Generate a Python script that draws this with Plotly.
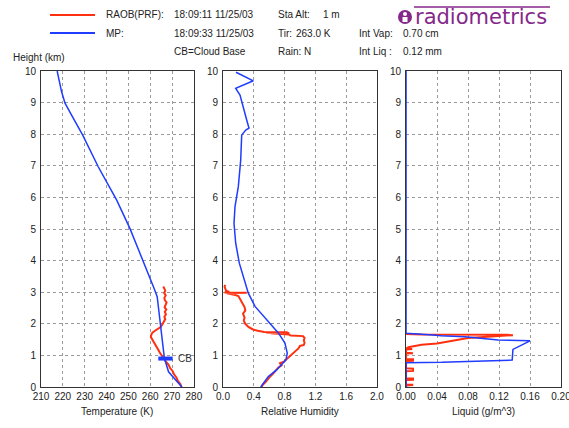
import plotly.graph_objects as go

# ---------------- data ----------------
# Temperature profiles (K) vs height (km)
mp_temp_h = [0.0, 0.22, 0.48, 0.91, 1.91, 2.86, 3.12, 3.6, 4.23, 5.02, 5.92, 6.97, 7.97, 8.6, 8.98, 9.35, 10.0]
mp_temp = [274.5, 271.5, 268.4, 266.5, 264.8, 263.2, 261.8, 259.1, 255.3, 250.7, 244.6, 236.2, 229.1, 224.0, 221.0, 219.4, 217.4]

raob_temp_h = [0.0, 0.1, 0.2, 0.3, 0.4, 0.5, 0.6, 0.7, 0.8, 0.9, 1.0, 1.1, 1.2, 1.3, 1.4, 1.5, 1.58, 1.65,
               1.72, 1.78, 1.84, 1.9, 1.96, 2.02, 2.08, 2.15, 2.22, 2.3, 2.38, 2.45, 2.52, 2.6, 2.68,
               2.75, 2.82, 2.9, 2.98, 3.05, 3.12, 3.18]
raob_temp = [274.4, 273.7, 272.6, 272.0, 270.9, 270.3, 269.1, 268.4, 267.2, 266.1, 265.3, 264.3, 263.5,
             262.6, 261.7, 260.9, 260.3, 260.5, 261.0, 262.2, 263.5, 264.8, 265.4, 266.0, 266.6, 266.9,
             266.5, 267.2, 266.7, 267.4, 266.6, 266.9, 267.5, 266.7, 266.5, 267.1, 266.4, 266.9, 266.3, 266.0]

# Cloud base marker
cb_height = 0.9
cb_temp_span = [263.7, 270.3]

# Relative humidity profiles
mp_rh_h = [0.0, 0.33, 0.54, 0.86, 1.07, 1.39, 1.71, 2.13, 2.55, 2.97, 3.49, 3.92, 4.55, 5.18, 5.71, 6.34,
           7.18, 7.97, 8.13, 8.19, 8.45, 8.87, 9.24, 9.45, 9.69, 9.96]
mp_rh = [0.49, 0.589, 0.697, 0.818, 0.835, 0.805, 0.719, 0.567, 0.416, 0.329, 0.264, 0.212, 0.165, 0.143,
         0.156, 0.199, 0.23, 0.243, 0.295, 0.338, 0.308, 0.264, 0.221, 0.165, 0.394, 0.169]

raob_rh_h = [0.0, 0.08, 0.15, 0.25, 0.35, 0.45, 0.55, 0.62, 0.68, 0.75, 0.8, 0.87, 0.92, 1.0, 1.08, 1.15,
             1.22, 1.3, 1.33, 1.4, 1.48, 1.55, 1.61, 1.63, 1.66, 1.7, 1.71, 1.72, 1.73, 1.74, 1.75, 1.78,
             1.82, 1.9, 2.0, 2.1, 2.2, 2.32, 2.42, 2.53, 2.62, 2.72, 2.82, 2.88, 2.91, 2.95, 2.97, 2.98,
             2.99, 3.0, 3.01, 3.05, 3.12, 3.18, 3.23]
raob_rh = [0.5, 0.52, 0.55, 0.58, 0.62, 0.66, 0.7, 0.72, 0.76, 0.74, 0.79, 0.82, 0.84, 0.88, 0.92, 0.95,
           0.98, 1.0, 1.05, 1.06, 1.05, 1.06, 1.04, 0.88, 0.86, 0.62, 0.86, 0.56, 0.84, 0.53, 0.52, 0.45,
           0.39, 0.33, 0.29, 0.27, 0.28, 0.26, 0.29, 0.28, 0.26, 0.24, 0.22, 0.2, 0.16, 0.1, 0.05, 0.31,
           0.02, 0.3, 0.08, 0.04, 0.03, 0.02, 0.03]

# Liquid water profiles (g/m^3)
mp_liq_h = [0.0, 0.77, 0.78, 0.81, 0.85, 1.19, 1.46, 1.49, 1.59, 1.62, 1.645, 1.7, 10.0]
mp_liq = [0.0, 0.0, 0.046, 0.093, 0.137, 0.138, 0.16, 0.119, 0.076, 0.045, 0.035, 0.0, 0.0]

raob_liq_h = [0.0, 0.05, 0.06, 0.07, 0.08, 0.22, 0.23, 0.27, 0.28, 0.5, 0.51, 0.58, 0.59, 0.82, 0.83,
              0.88, 0.89, 1.06, 1.07, 1.08, 1.19, 1.2, 1.21, 1.26, 1.3, 1.34, 1.38, 1.42, 1.45, 1.5, 1.55,
              1.6, 1.63, 1.64, 1.65, 1.66, 1.68]
raob_liq = [0.0, 0.0, 0.008, 0.008, 0.0, 0.0, 0.009, 0.009, 0.0, 0.0, 0.009, 0.009, 0.0, 0.0, 0.009,
            0.009, 0.0, 0.0, 0.009, 0.0, 0.0, 0.008, 0.0, 0.003, 0.01, 0.02, 0.04, 0.05, 0.06, 0.07, 0.08,
            0.11, 0.13, 0.138, 0.13, 0.02, 0.0]

# Axis ticks
temp_ticks = [210, 220, 230, 240, 250, 260, 270, 280]
rh_ticks = [0.0, 0.4, 0.8, 1.2, 1.6, 2.0]
liq_ticks = [0.0, 0.04, 0.08, 0.12, 0.16, 0.20]
height_ticks = list(range(0, 11))

# Header information
raob_label, raob_time = "RAOB(PRF):", "18:09:11 11/25/03"
mp_label, mp_time = "MP:", "18:09:33 11/25/03"
info_rows = [("Sta Alt:", "1 m", 321), ("Tir:", "263.0 K", 294), ("Rain: N", "", 0)]
int_rows = [("Int Vap:", "0.70 cm"), ("Int Liq :", "0.12 mm")]

RED = "#ff3010"
BLUE = "#1f3cff"
FONT = "Liberation Sans, Arial, sans-serif"
TXT = "#222222"

# plot-area geometry (pixels) used for placing header items
L, R, T, B = 41, 561, 71, 387


def paper(x, y):
    return (x - L) / (R - L), (B - y) / (B - T)


fig = go.Figure()

# Temperature panel
fig.add_trace(go.Scatter(x=raob_temp, y=raob_temp_h, mode="lines", line=dict(color=RED, width=2),
                         xaxis="x", yaxis="y", name="RAOB"))
fig.add_trace(go.Scatter(x=mp_temp, y=mp_temp_h, mode="lines", line=dict(color=BLUE, width=1.5),
                         xaxis="x", yaxis="y", name="MP"))
fig.add_trace(go.Scatter(x=cb_temp_span, y=[cb_height, cb_height], mode="lines",
                         line=dict(color=BLUE, width=4), xaxis="x", yaxis="y", name="CB"))

# Relative humidity panel
fig.add_trace(go.Scatter(x=raob_rh, y=raob_rh_h, mode="lines", line=dict(color=RED, width=2),
                         xaxis="x2", yaxis="y2", name="RAOB"))
fig.add_trace(go.Scatter(x=mp_rh, y=mp_rh_h, mode="lines", line=dict(color=BLUE, width=1.5),
                         xaxis="x2", yaxis="y2", name="MP"))

# Liquid panel
fig.add_trace(go.Scatter(x=raob_liq, y=raob_liq_h, mode="lines", line=dict(color=RED, width=2),
                         xaxis="x3", yaxis="y3", name="RAOB"))
fig.add_trace(go.Scatter(x=mp_liq, y=mp_liq_h, mode="lines", line=dict(color=BLUE, width=1.5),
                         xaxis="x3", yaxis="y3", name="MP"))

axis_common = dict(showline=True, mirror=True, linecolor="#333333", linewidth=1,
                   showgrid=True, gridcolor="#9a9a9a", griddash="3px,3px", gridwidth=1,
                   zeroline=False, ticks="", tickfont=dict(family=FONT, size=10, color=TXT),
                   fixedrange=True, automargin=False, ticklabeloverflow="allow")

domains = [[0.0, 0.294], [0.35, 0.646], [0.702, 1.0]]
xspecs = [
    dict(range=[210, 280], tickvals=temp_ticks, ticktext=[str(v) for v in temp_ticks]),
    dict(range=[0, 2.0], tickvals=rh_ticks, ticktext=[f"{v:.1f}" for v in rh_ticks]),
    dict(range=[0, 0.2], tickvals=liq_ticks, ticktext=[f"{v:.2f}" for v in liq_ticks]),
]
layout = dict(
    template="none",
    width=569, height=428,
    margin=dict(l=L, r=569 - R, t=T, b=428 - B, pad=0, autoexpand=False),
    paper_bgcolor="white", plot_bgcolor="white",
    showlegend=False, hovermode=False,
    font=dict(family=FONT, size=10, color=TXT),
)
for i in range(3):
    sx = "" if i == 0 else str(i + 1)
    layout["xaxis" + sx] = dict(domain=domains[i], anchor="y" + sx, **xspecs[i], **axis_common)
    layout["yaxis" + sx] = dict(domain=[0, 1], anchor="x" + sx, range=[0, 10], tickvals=height_ticks,
                                ticklabelstandoff=2, **axis_common)
fig.update_layout(**layout)

ann = []
# axis titles
for xr, yr, title in [("x domain", "y domain", "Temperature (K)"),
                      ("x2 domain", "y2 domain", "Relative Humidity"),
                      ("x3 domain", "y3 domain", "Liquid (g/m^3)")]:
    ann.append(dict(x=0.5, xref=xr, y=0, yref=yr, yanchor="top", yshift=-17, text=title,
                    showarrow=False, font=dict(size=10, color=TXT)))

# CB label
ann.append(dict(x=cb_temp_span[1] + 1.3, y=cb_height, xref="x", yref="y", text="CB",
                xanchor="left", yanchor="middle", showarrow=False, font=dict(size=10, color="#333")))


def text_at(px, py, s, size=10, color=TXT, anchor="left", family=FONT):
    xp, yp = paper(px, py)
    ann.append(dict(x=xp, y=yp, xref="paper", yref="paper", text=s, showarrow=False,
                    xanchor=anchor, yanchor="middle", font=dict(size=size, color=color, family=family)))


text_at(11, 57, "Height (km)")
text_at(104, 15, raob_label)
text_at(104, 33, mp_label)
text_at(172, 15, raob_time)
text_at(172, 33, mp_time)
text_at(172, 51, "CB=Cloud Base")
for k, (a, b, bx) in enumerate(info_rows):
    yy = 15 + 18 * k
    text_at(276, yy, a)
    if b:
        text_at(bx, yy, b)
for k, (a, b) in enumerate(int_rows):
    yy = 33 + 18 * k
    text_at(357, yy, a)
    text_at(401, yy, b)

# logo
PURPLE = "#84288a"
text_at(413, 17, "radiometrics", size=21, color=PURPLE, family="DejaVu Sans, sans-serif")

shapes = []
for yy, col in [(15, RED), (33, BLUE)]:
    x0, y0 = paper(50, yy)
    x1, _ = paper(95, yy)
    shapes.append(dict(type="line", xref="paper", yref="paper", x0=x0, x1=x1, y0=y0, y1=y0,
                       line=dict(color=col, width=2)))
lx0, ly = paper(414, 7)
lx1, _ = paper(550, 7)
shapes.append(dict(type="line", xref="paper", yref="paper", x0=lx0, x1=lx1, y0=ly, y1=ly,
                   line=dict(color=PURPLE, width=1.5)))
cx0, cy0 = paper(398, 24)
cx1, cy1 = paper(412, 10)
shapes.append(dict(type="circle", xref="paper", yref="paper", x0=cx0, x1=cx1, y0=cy0, y1=cy1,
                   fillcolor=PURPLE, line=dict(color=PURPLE, width=0)))
hx0, hy0 = paper(403, 16)
hx1, hy1 = paper(407, 12)
shapes.append(dict(type="circle", xref="paper", yref="paper", x0=hx0, x1=hx1, y0=hy0, y1=hy1,
                   fillcolor="white", line=dict(width=0)))
bx0, by0 = paper(402.5, 22)
bx1, by1 = paper(407.5, 17)
shapes.append(dict(type="rect", xref="paper", yref="paper", x0=bx0, x1=bx1, y0=by0, y1=by1,
                   fillcolor="white", line=dict(width=0)))

fig.update_layout(annotations=ann, shapes=shapes)
fig.write_html("out.html")
